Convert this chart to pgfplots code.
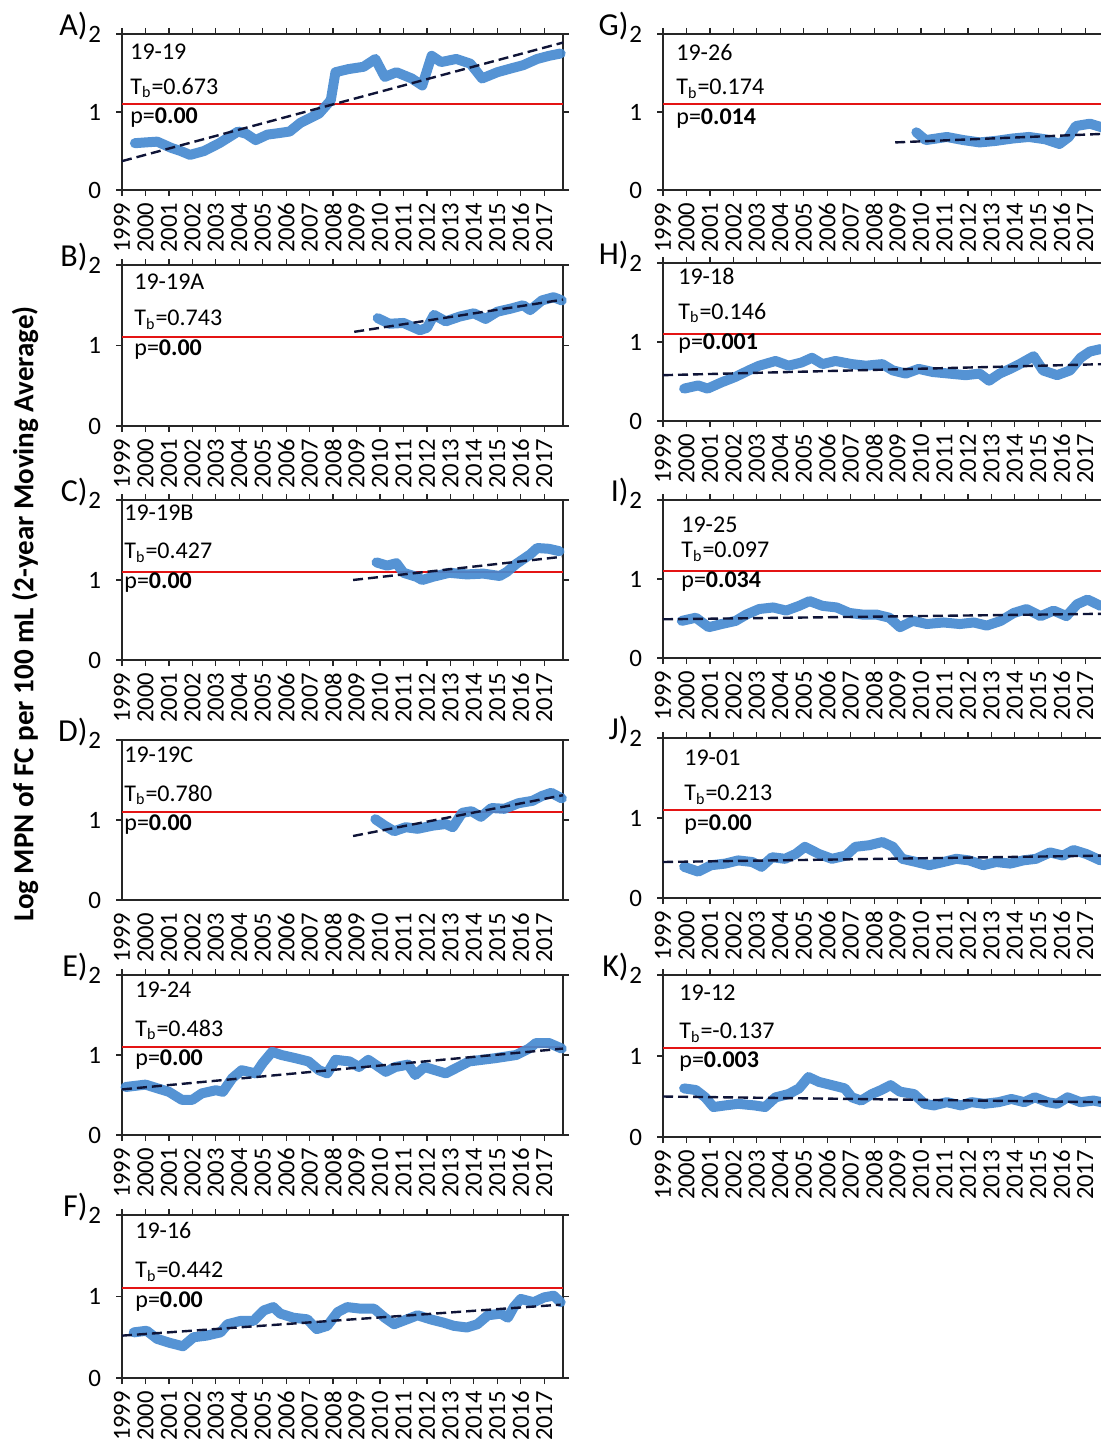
\documentclass[border=0pt]{standalone}
\usepackage{fontspec}
\setmainfont{Carlito}
\usepackage{pgfplots}
\pgfplotsset{compat=1.18}
\definecolor{lineblue}{RGB}{70,138,208}
\definecolor{trendc}{RGB}{15,20,55}
\definecolor{limred}{RGB}{228,20,20}
\pgfplotsset{
 panel/.style={
  scale only axis, width=220.5pt, height=#1, anchor=south west,
  xmin=1999, xmax=2017.8, ymin=0, ymax=2, clip=false,
  xtick={1999,...,2017}, ytick={0,1,2},
  tick align=outside, major tick length=3pt,
  axis line style={draw=black!85, line width=0.6pt},
  tick style={black!85, line width=0.6pt},
  /pgf/number format/1000 sep={},
  /pgf/number format/assume math mode=true,
  x tick label style={rotate=90, anchor=east, font=\fontsize{12.3}{13}\selectfont},
  y tick label style={xshift=-4pt, font=\fontsize{12.5}{13}\selectfont},
 },
 bl/.style={lineblue, line width=5pt, line join=round, line cap=round, opacity=0.92},
 tr/.style={trendc, line width=1.2pt, dash pattern=on 5pt off 2.5pt},
 rl/.style={limred, line width=1pt},
}
\newcommand{\plab}[1]{\node[anchor=east, inner sep=0pt, font=\fontsize{16}{17}\selectfont] at (rel axis cs:0,1) [xshift=-17pt, yshift=4pt] {#1};}
\newcommand{\ptext}[7]{%
 \node[anchor=west, inner sep=0pt, font=\fontsize{12}{13}\selectfont] at (rel axis cs:0,1) [xshift=#1, yshift=-#2] {#5};
 \node[anchor=west, inner sep=0pt, font=\fontsize{12}{13}\selectfont] at (rel axis cs:0,1) [xshift=#1, yshift=-#3] {T\textsubscript{b}=#6};
 \node[anchor=west, inner sep=0pt, font=\fontsize{12}{13}\selectfont] at (rel axis cs:0,1) [xshift=#1, yshift=-#4] {p=\textbf{#7}};}
\begin{document}
\begin{tikzpicture}
% ---------------- A
\begin{axis}[panel=78pt, at={(61pt,-95pt)}]
\addplot[rl] coordinates {(1999,1.1) (2017.8,1.1)};
\addplot[bl] coordinates {(1999.55,0.60)(2000.0,0.61)(2000.5,0.62)(2001.1,0.54)(2001.5,0.50)(2001.9,0.45)(2002.5,0.50)(2003.15,0.60)(2003.95,0.75)(2004.3,0.72)(2004.7,0.64)(2005.2,0.71)(2005.7,0.73)(2006.15,0.75)(2006.6,0.86)(2007.0,0.92)(2007.4,0.98)(2007.9,1.15)(2008.1,1.51)(2008.65,1.55)(2009.3,1.58)(2009.8,1.68)(2010.2,1.45)(2010.7,1.51)(2011.35,1.43)(2011.8,1.34)(2012.2,1.72)(2012.6,1.64)(2013.25,1.68)(2013.85,1.62)(2014.35,1.43)(2015.0,1.51)(2015.6,1.56)(2016.1,1.60)(2016.7,1.68)(2017.2,1.72)(2017.7,1.75)};
\addplot[tr] coordinates {(1999,0.37)(2017.8,1.89)};
\plab{A)}
\ptext{4pt}{9pt}{27pt}{42pt}{19-19}{0.673}{0.00}
\end{axis}
% ---------------- B
\begin{axis}[panel=80.5pt, at={(61pt,-213pt)}]
\addplot[rl] coordinates {(1999,1.1) (2017.8,1.1)};
\addplot[bl] coordinates {(2009.9,1.34)(2010.4,1.27)(2011.0,1.28)(2011.7,1.19)(2012.0,1.22)(2012.3,1.38)(2012.8,1.30)(2013.4,1.36)(2014.0,1.40)(2014.5,1.33)(2015.0,1.42)(2015.6,1.46)(2016.1,1.50)(2016.4,1.44)(2016.9,1.56)(2017.4,1.60)(2017.75,1.56)};
\addplot[tr] coordinates {(2008.9,1.17)(2017.8,1.57)};
\plab{B)}
\ptext{6pt}{8.5pt}{27.5pt}{42.5pt}{19-19A}{0.743}{0.00}
\end{axis}
% ---------------- C
\begin{axis}[panel=80pt, at={(61pt,-330pt)}]
\addplot[rl] coordinates {(1999,1.1) (2017.8,1.1)};
\addplot[bl] coordinates {(2009.85,1.22)(2010.3,1.18)(2010.7,1.21)(2011.0,1.09)(2011.55,1.04)(2011.8,1.00)(2012.25,1.04)(2012.95,1.09)(2013.7,1.07)(2014.4,1.08)(2015.1,1.05)(2015.4,1.10)(2015.8,1.20)(2016.4,1.32)(2016.7,1.40)(2017.2,1.39)(2017.65,1.36)};
\addplot[tr] coordinates {(2008.85,1.00)(2017.75,1.29)};
\plab{C)}
\ptext{1pt}{6.5pt}{26.5pt}{41.5pt}{19-19B}{0.427}{0.00}
\end{axis}
% ---------------- D
\begin{axis}[panel=80pt, at={(61pt,-450pt)}, xtick style={draw=none}]
\addplot[rl] coordinates {(1999,1.1) (2017.8,1.1)};
\addplot[bl] coordinates {(2009.8,1.01)(2010.2,0.93)(2010.6,0.86)(2011.1,0.91)(2011.6,0.89)(2012.25,0.93)(2012.8,0.95)(2013.1,0.91)(2013.5,1.09)(2013.9,1.11)(2014.3,1.04)(2014.75,1.15)(2015.3,1.14)(2015.9,1.21)(2016.5,1.24)(2016.9,1.30)(2017.3,1.34)(2017.75,1.27)};
\addplot[tr] coordinates {(2008.85,0.80)(2017.8,1.31)};
\plab{D)}
\ptext{1pt}{7.5pt}{27.5pt}{42.5pt}{19-19C}{0.780}{0.00}
\end{axis}
% ---------------- E
\begin{axis}[panel=80pt, at={(61pt,-567.5pt)}]
\addplot[rl] coordinates {(1999,1.1) (2017.8,1.1)};
\addplot[bl] coordinates {(1999.15,0.60)(2000.0,0.63)(2000.55,0.58)(2001.0,0.54)(2001.55,0.44)(2002.0,0.44)(2002.4,0.52)(2003.0,0.56)(2003.3,0.54)(2003.7,0.71)(2004.1,0.81)(2004.7,0.77)(2005.0,0.90)(2005.4,1.04)(2005.8,1.00)(2006.4,0.96)(2006.95,0.92)(2007.4,0.81)(2007.75,0.77)(2008.1,0.94)(2008.7,0.92)(2009.1,0.85)(2009.5,0.94)(2009.95,0.85)(2010.25,0.79)(2010.65,0.85)(2011.2,0.88)(2011.5,0.75)(2011.9,0.85)(2012.35,0.81)(2012.8,0.77)(2013.2,0.83)(2013.8,0.92)(2014.35,0.94)(2014.9,0.96)(2015.35,0.98)(2015.8,1.00)(2016.35,1.08)(2016.65,1.15)(2017.2,1.15)(2017.75,1.08)};
\addplot[tr] coordinates {(1999,0.57)(2017.8,1.08)};
\plab{E)}
\ptext{6.5pt}{7.5pt}{27.5pt}{42.5pt}{19-24}{0.483}{0.00}
\end{axis}
% ---------------- F
\begin{axis}[panel=81.5pt, at={(61pt,-689pt)}]
\addplot[rl] coordinates {(1999,1.1) (2017.8,1.1)};
\addplot[bl] coordinates {(1999.5,0.56)(2000.05,0.58)(2000.5,0.48)(2001.05,0.43)(2001.6,0.39)(2002.05,0.50)(2002.6,0.52)(2003.2,0.56)(2003.5,0.66)(2004.05,0.70)(2004.6,0.70)(2005.05,0.83)(2005.45,0.87)(2005.75,0.79)(2006.3,0.74)(2006.9,0.72)(2007.3,0.60)(2007.75,0.64)(2008.2,0.81)(2008.6,0.87)(2009.2,0.85)(2009.75,0.85)(2010.2,0.74)(2010.6,0.66)(2011.15,0.72)(2011.6,0.77)(2012.15,0.72)(2012.7,0.68)(2013.15,0.64)(2013.7,0.62)(2014.15,0.66)(2014.6,0.77)(2015.15,0.79)(2015.45,0.74)(2015.7,0.87)(2016.0,0.97)(2016.55,0.93)(2017.0,0.99)(2017.4,1.01)(2017.7,0.93)};
\addplot[tr] coordinates {(1999,0.52)(2017.7,0.90)};
\plab{F)}
\ptext{6.5pt}{7.5pt}{28.5pt}{43.5pt}{19-16}{0.442}{0.00}
\end{axis}
% ---------------- G
\begin{axis}[panel=78pt, at={(331.5pt,-95pt)}]
\addplot[rl] coordinates {(1999,1.1) (2017.8,1.1)};
\addplot[bl] coordinates {(2009.8,0.74)(2010.2,0.64)(2011.1,0.68)(2011.8,0.64)(2012.5,0.61)(2013.2,0.63)(2013.9,0.66)(2014.6,0.68)(2015.3,0.65)(2015.9,0.59)(2016.3,0.68)(2016.6,0.82)(2017.2,0.85)(2017.75,0.80)};
\addplot[tr] coordinates {(2008.9,0.61)(2017.8,0.72)};
\plab{G)}
\ptext{6.5pt}{9pt}{27.5pt}{42.5pt}{19-26}{0.174}{0.014}
\end{axis}
% ---------------- H
\begin{axis}[panel=79pt, at={(331.5pt,-210.5pt)}]
\addplot[rl] coordinates {(1999,1.1) (2017.8,1.1)};
\addplot[bl] coordinates {(1999.9,0.41)(2000.5,0.45)(2000.9,0.41)(2001.5,0.49)(2002.1,0.56)(2002.65,0.64)(2003.1,0.70)(2003.8,0.76)(2004.35,0.70)(2004.9,0.74)(2005.35,0.80)(2005.8,0.72)(2006.35,0.76)(2007.05,0.72)(2007.65,0.70)(2008.35,0.72)(2008.8,0.64)(2009.35,0.60)(2009.9,0.66)(2010.5,0.62)(2011.2,0.60)(2011.9,0.58)(2012.5,0.60)(2012.9,0.51)(2013.35,0.60)(2013.8,0.66)(2014.2,0.72)(2014.8,0.82)(2015.2,0.64)(2015.8,0.58)(2016.35,0.64)(2016.8,0.80)(2017.2,0.88)(2017.65,0.91)};
\addplot[tr] coordinates {(1999,0.58)(2017.8,0.72)};
\plab{H)}
\ptext{7.5pt}{6.5pt}{25pt}{40.5pt}{19-18}{0.146}{0.001}
\end{axis}
% ---------------- I
\begin{axis}[panel=79pt, at={(331.5pt,-329pt)}]
\addplot[rl] coordinates {(1999,1.1) (2017.8,1.1)};
\addplot[bl] coordinates {(1999.8,0.47)(2000.4,0.51)(2000.95,0.39)(2001.5,0.43)(2002.1,0.47)(2002.55,0.55)(2003.1,0.62)(2003.7,0.64)(2004.25,0.60)(2004.8,0.66)(2005.25,0.72)(2005.8,0.66)(2006.4,0.64)(2006.95,0.57)(2007.5,0.55)(2008.1,0.55)(2008.65,0.51)(2009.1,0.39)(2009.65,0.47)(2010.25,0.43)(2010.95,0.45)(2011.65,0.43)(2012.25,0.45)(2012.8,0.41)(2013.4,0.47)(2013.95,0.57)(2014.5,0.62)(2015.1,0.53)(2015.65,0.60)(2016.2,0.53)(2016.65,0.68)(2017.1,0.74)(2017.65,0.66)};
\addplot[tr] coordinates {(1999,0.49)(2017.8,0.56)};
\plab{I)}
\ptext{9pt}{12.5pt}{26pt}{41pt}{19-25}{0.097}{0.034}
\end{axis}
% ---------------- J
\begin{axis}[panel=80pt, at={(331.5pt,-449pt)}]
\addplot[rl] coordinates {(1999,1.1) (2017.8,1.1)};
\addplot[bl] coordinates {(1999.9,0.39)(2000.5,0.33)(2001.05,0.41)(2001.65,0.43)(2002.2,0.47)(2002.8,0.45)(2003.2,0.39)(2003.65,0.51)(2004.2,0.49)(2004.65,0.55)(2005.05,0.64)(2005.65,0.55)(2006.2,0.49)(2006.8,0.53)(2007.2,0.64)(2007.8,0.66)(2008.35,0.70)(2008.8,0.64)(2009.2,0.49)(2009.8,0.45)(2010.35,0.41)(2010.95,0.45)(2011.5,0.49)(2012.05,0.47)(2012.65,0.41)(2013.2,0.45)(2013.8,0.43)(2014.35,0.47)(2014.9,0.49)(2015.5,0.57)(2016.05,0.53)(2016.5,0.60)(2017.05,0.55)(2017.65,0.47)};
\addplot[tr] coordinates {(1999,0.45)(2017.8,0.53)};
\plab{J)}
\ptext{10.5pt}{10pt}{28.5pt}{43.5pt}{19-01}{0.213}{0.00}
\end{axis}
% ---------------- K
\begin{axis}[panel=81pt, at={(331.5pt,-568.5pt)}]
\addplot[rl] coordinates {(1999,1.1) (2017.8,1.1)};
\addplot[bl] coordinates {(1999.9,0.60)(2000.4,0.58)(2000.8,0.49)(2001.15,0.37)(2001.65,0.39)(2002.2,0.41)(2002.9,0.39)(2003.35,0.37)(2003.8,0.49)(2004.35,0.53)(2004.8,0.60)(2005.2,0.74)(2005.65,0.68)(2006.2,0.64)(2006.75,0.60)(2007.05,0.49)(2007.45,0.45)(2007.9,0.53)(2008.3,0.58)(2008.7,0.64)(2009.1,0.56)(2009.7,0.53)(2010.15,0.41)(2010.55,0.39)(2011.1,0.43)(2011.7,0.39)(2012.15,0.43)(2012.7,0.41)(2013.3,0.43)(2013.85,0.47)(2014.4,0.43)(2014.85,0.49)(2015.4,0.43)(2015.8,0.41)(2016.25,0.49)(2016.8,0.43)(2017.35,0.45)(2017.7,0.43)};
\addplot[tr] coordinates {(1999,0.50)(2017.8,0.43)};
\plab{K)}
\ptext{8pt}{9pt}{29pt}{43.5pt}{19-12}{-0.137}{0.003}
\end{axis}
% y label
\node[rotate=90, font=\bfseries\fontsize{14.5}{17}\selectfont] at (12.5pt,-307pt) {Log MPN of FC per 100 mL (2-year Moving Average)};
\pgfresetboundingbox
\path[use as bounding box] (0,0) rectangle (550pt,-722pt);
\end{tikzpicture}
\end{document}
